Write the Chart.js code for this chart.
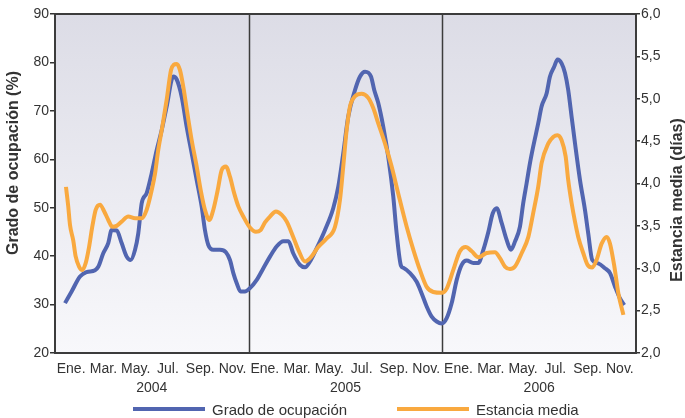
<!DOCTYPE html>
<html><head><meta charset="utf-8">
<script src="https://cdn.jsdelivr.net/npm/chart.js@4.4.1/dist/chart.umd.min.js"></script>
<style>
html,body{margin:0;padding:0;background:#fff;}
#wrap{position:relative;width:685px;height:418px;overflow:hidden;}
canvas{position:absolute;left:0;top:0;}
#legend{position:absolute;top:400px;left:133px;height:18px;display:flex;align-items:center;font:15px "Liberation Sans",Arial,sans-serif;color:#333;white-space:nowrap;}
.item{display:flex;align-items:center;}
.sw{width:72px;height:4px;margin-right:7px;}
</style></head><body>
<div id="wrap"><canvas id="c" width="685" height="418"></canvas><div id="legend"></div></div>
<script>
// x positions are in months counted from January 2004 (0 = start of Ene. 2004)
const monthLabels = ['Ene.','Mar.','May.','Jul.','Sep.','Nov.'];
const years = ['2004','2005','2006'];
const seriesNames = ['Grado de ocupación','Estancia media'];
const axisTitles = ['Grado de ocupación (%)','Estancia media (días)'];

const occT = [0.62,1.03,1.55,1.96,2.48,2.68,2.99,3.3,3.51,3.82,4.13,4.44,4.69,4.96,5.16,5.37,5.68,5.99,6.3,6.61,6.92,7.33,7.54,7.85,8.16,8.47,8.78,9.09,9.29,9.5,9.81,10.22,10.59,10.84,11.05,11.26,11.5,11.77,12.08,12.5,12.91,13.32,13.73,14.15,14.46,14.76,15.18,15.49,15.8,16.21,16.73,17.24,17.55,17.86,18.17,18.59,18.9,19.21,19.58,19.78,20.03,20.34,20.65,20.96,21.17,21.44,21.58,22.0,22.41,22.72,23.03,23.34,23.65,23.96,24.27,24.58,24.89,25.2,25.51,25.92,26.23,26.54,26.85,27.12,27.37,27.68,27.99,28.25,28.5,28.81,29.01,29.22,29.43,29.63,29.94,30.15,30.46,30.67,30.93,31.14,31.39,31.6,31.8,32.01,32.22,32.53,32.84,33.04,33.29,33.66,34.08,34.39,34.7,35.0,35.27];
const occV = [30.3,32.7,35.8,36.7,37.1,37.8,40.6,42.7,45.4,45.3,42.7,39.9,39.2,41.3,44.7,50.9,53.0,57.1,61.9,66.0,70.9,77.1,76.5,72.9,66.7,61.2,55.7,50.2,45.4,42.3,41.3,41.3,40.8,39.2,36.5,34.4,32.7,32.7,33.4,35.1,37.5,39.9,42.0,43.1,43.1,40.6,38.2,37.7,38.9,41.6,45.4,49.9,54.3,61.2,68.8,74.3,77.1,78.1,77.1,74.3,71.6,66.7,60.5,52.3,44.7,38.0,37.6,36.5,34.7,32.3,29.6,27.5,26.5,26.1,27.2,30.3,35.1,38.2,39.1,38.6,38.6,41.3,45.0,48.8,49.9,46.8,43.3,41.3,43.0,46.1,50.9,55.0,59.2,62.6,67.4,70.9,73.6,77.1,79.1,80.6,79.8,77.8,74.3,68.8,63.3,55.7,49.5,44.7,39.2,38.5,37.5,36.5,33.7,31.3,29.9];

const stayT = [0.68,0.82,0.93,1.13,1.28,1.49,1.69,1.9,2.11,2.31,2.52,2.79,3.05,3.3,3.55,3.82,4.13,4.54,4.96,5.37,5.68,5.99,6.2,6.4,6.65,6.92,7.19,7.35,7.54,7.74,7.95,8.2,8.47,8.78,9.03,9.29,9.56,9.81,10.08,10.33,10.59,10.84,11.11,11.36,11.67,12.08,12.45,12.74,13.01,13.32,13.69,14.05,14.36,14.76,15.07,15.49,15.9,16.31,16.83,17.35,17.66,17.86,18.07,18.28,18.59,19.0,19.41,19.72,20.03,20.45,20.86,21.27,21.79,22.2,22.61,23.03,23.44,23.96,24.27,24.68,25.09,25.45,25.82,26.23,26.75,27.26,27.57,27.88,28.19,28.5,28.92,29.33,29.63,29.94,30.15,30.56,30.87,31.14,31.39,31.64,31.8,32.01,32.22,32.42,32.73,33.0,33.29,33.56,33.87,34.18,34.39,34.66,34.91,35.22];
const stayV = [3.96,3.73,3.51,3.33,3.14,3.02,2.98,3.06,3.25,3.49,3.69,3.75,3.67,3.57,3.49,3.50,3.55,3.61,3.59,3.59,3.69,3.92,4.12,4.40,4.67,4.99,5.34,5.40,5.41,5.34,5.14,4.83,4.51,4.20,3.92,3.69,3.57,3.69,3.92,4.16,4.20,4.08,3.88,3.73,3.61,3.48,3.43,3.45,3.54,3.61,3.67,3.63,3.55,3.37,3.22,3.08,3.14,3.25,3.35,3.49,3.81,4.20,4.63,4.91,5.03,5.06,5.01,4.89,4.71,4.47,4.20,3.88,3.49,3.22,2.98,2.78,2.72,2.71,2.76,2.98,3.20,3.25,3.20,3.13,3.18,3.19,3.12,3.02,2.99,3.02,3.18,3.37,3.65,3.96,4.24,4.47,4.55,4.57,4.51,4.32,4.04,3.77,3.55,3.37,3.18,3.04,3.01,3.10,3.29,3.37,3.29,3.02,2.70,2.45];

const colors = ['#5165b0','#f9a93f'];
const textColor = '#333333';
const FONT = '"Liberation Sans", Arial, Helvetica, sans-serif';
Chart.defaults.font.family = FONT;
Chart.defaults.font.size = 14;
Chart.defaults.color = textColor;

const monthTickValues = [];
for (let y = 0; y < years.length; y++) for (let k = 0; k < monthLabels.length; k++) monthTickValues.push(12*y + 2*k + 1);
const yearTickValues = years.map((_, i) => 12*i + 6);
const dividerValues = [12, 24];

const framePlugin = {
  id: 'framePlugin',
  beforeDraw(chart) {
    const {ctx, chartArea: a} = chart;
    const g = ctx.createLinearGradient(0, a.top, 0, a.bottom);
    g.addColorStop(0, '#dcdce6');
    g.addColorStop(1, '#f8f8fb');
    ctx.save();
    ctx.fillStyle = g;
    ctx.fillRect(a.left, a.top, a.right - a.left, a.bottom - a.top);
    ctx.restore();
  },
  beforeDatasetsDraw(chart) {
    const {ctx, chartArea: a, scales} = chart;
    ctx.save();
    ctx.strokeStyle = '#3c3c3c';
    ctx.lineWidth = 1.5;
    dividerValues.forEach(v => {
      const px = Math.round(scales.x.getPixelForValue(v)) + 0.5;
      ctx.beginPath(); ctx.moveTo(px, a.top); ctx.lineTo(px, a.bottom); ctx.stroke();
    });
    ctx.lineWidth = 2;
    ctx.strokeRect(a.left, a.top, a.right - a.left, a.bottom - a.top);
    ctx.restore();
  },
  afterDraw(chart) {
    const {ctx} = chart;
    ctx.save();
    ctx.fillStyle = textColor;
    ctx.font = 'bold 16px ' + FONT;
    ctx.textAlign = 'center';
    ctx.textBaseline = 'middle';
    ctx.translate(14, 163); ctx.rotate(-Math.PI/2); ctx.fillText(axisTitles[0], 0, 0);
    ctx.restore();
    ctx.save();
    ctx.fillStyle = textColor;
    ctx.font = 'bold 16px ' + FONT;
    ctx.textAlign = 'center';
    ctx.textBaseline = 'middle';
    ctx.translate(678, 200); ctx.rotate(-Math.PI/2); ctx.fillText(axisTitles[1], 0, 0);
    ctx.restore();
  }
};

new Chart(document.getElementById('c'), {
  type: 'line',
  data: {
    datasets: [
      { label: seriesNames[0], data: occT.map((t, i) => ({x: t, y: occV[i]})), xAxisID: 'x', yAxisID: 'y',
        borderColor: colors[0], backgroundColor: colors[0], borderWidth: 4, pointRadius: 0, fill: false,
        cubicInterpolationMode: 'monotone', order: 1 },
      { label: seriesNames[1], data: stayT.map((t, i) => ({x: t, y: stayV[i]})), xAxisID: 'x', yAxisID: 'y2',
        borderColor: colors[1], backgroundColor: colors[1], borderWidth: 4, pointRadius: 0, fill: false,
        cubicInterpolationMode: 'monotone', order: 0 }
    ]
  },
  options: {
    responsive: false, animation: false, devicePixelRatio: 1,
    layout: { padding: { top: 14, bottom: 18, left: 0, right: 0 } },
    plugins: { legend: { display: false }, tooltip: { enabled: false } },
    scales: {
      x: {
        type: 'linear', position: 'bottom', min: 0, max: 36, weight: 0,
        afterBuildTicks: s => { s.ticks = monthTickValues.map(v => ({value: v})); },
        ticks: { autoSkip: false, maxRotation: 0, padding: 8, font: {size: 14},
          callback: v => monthLabels[((v - 1) / 2) % 6] },
        grid: { display: false, drawTicks: false }, border: { display: false },
        afterFit: s => { s.height = 25; }
      },
      x2: {
        type: 'linear', position: 'bottom', min: 0, max: 36, weight: 1,
        afterBuildTicks: s => { s.ticks = yearTickValues.map(v => ({value: v})); },
        ticks: { autoSkip: false, maxRotation: 0, padding: 2, font: {size: 14},
          callback: v => years[(v - 6) / 12] },
        grid: { display: false, drawTicks: false }, border: { display: false },
        afterFit: s => { s.height = 22; }
      },
      y: {
        type: 'linear', position: 'left', min: 20, max: 90,
        ticks: { stepSize: 10, padding: 1, font: {size: 14} },
        grid: { drawOnChartArea: false, drawTicks: true, tickLength: 5, color: '#333', lineWidth: 1.5 },
        border: { display: true, color: '#333', width: 2 },
        afterFit: s => { s.width = 55; }
      },
      y2: {
        type: 'linear', position: 'right', min: 2, max: 6,
        ticks: { stepSize: 0.5, padding: 1, font: {size: 14}, callback: v => v.toFixed(1).replace('.', ',') },
        grid: { drawOnChartArea: false, drawTicks: true, tickLength: 4, color: '#333', lineWidth: 1.5 },
        border: { display: true, color: '#333', width: 2 },
        afterFit: s => { s.width = 49; }
      }
    }
  },
  plugins: [framePlugin]
});

const leg = document.getElementById('legend');
seriesNames.forEach((name, i) => {
  const it = document.createElement('div');
  it.className = 'item';
  if (i > 0) it.style.marginLeft = '50px';
  const sw = document.createElement('span');
  sw.className = 'sw'; sw.style.background = colors[i];
  const tx = document.createElement('span');
  tx.textContent = name;
  it.appendChild(sw); it.appendChild(tx);
  leg.appendChild(it);
});
</script>
</body></html>
